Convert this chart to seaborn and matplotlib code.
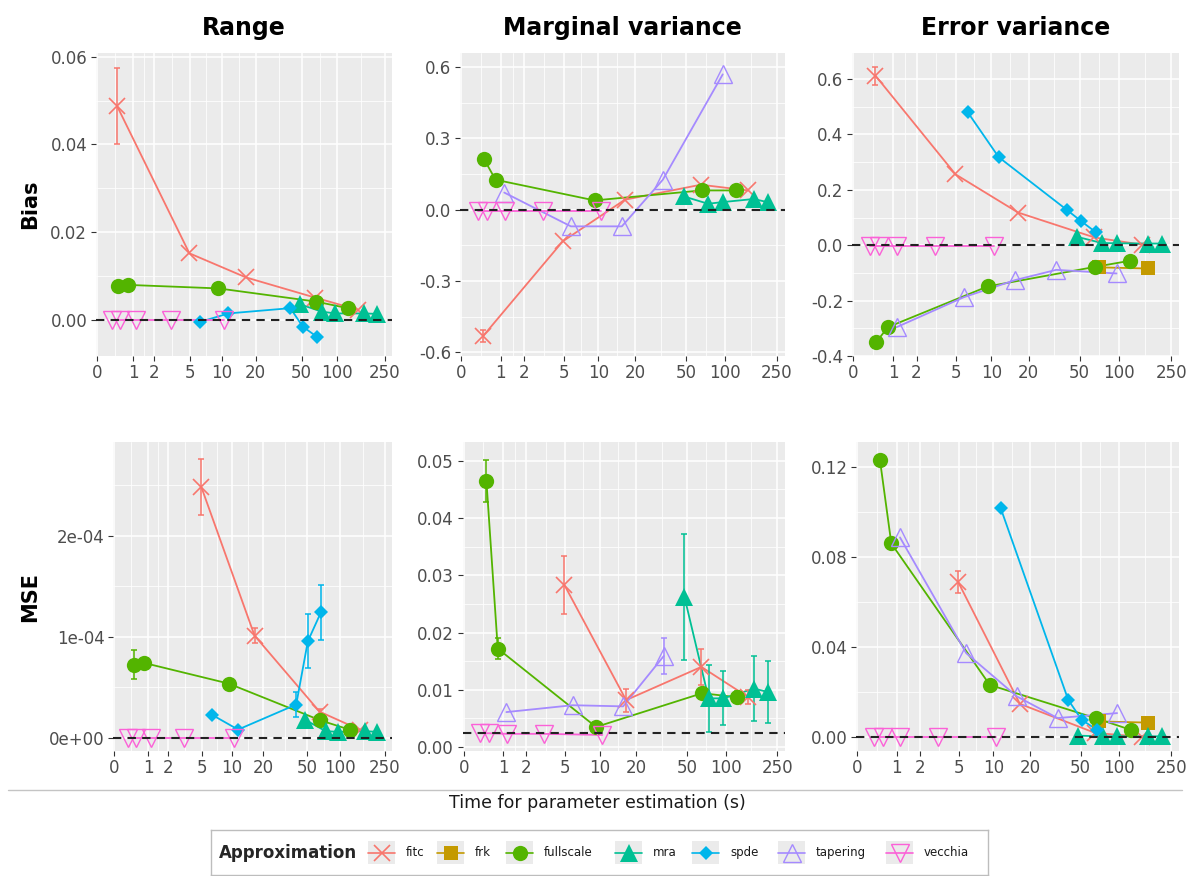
import numpy as np
import pandas as pd
import matplotlib
matplotlib.use("Agg")
import matplotlib.pyplot as plt
import seaborn as sns
from matplotlib.patches import Rectangle
from matplotlib.lines import Line2D

# ---------------- data ----------------
nan = np.nan
methods = ["fitc", "frk", "fullscale", "mra", "spde", "tapering", "vecchia"]
colors = ["#F8766D", "#C49A00", "#53B400", "#00C094", "#00B6EB", "#A58AFF", "#FB61D7"]

time_fitc = [0.47, 4.9, 16.5, 65, 150]
time_frk = [70, 165]
time_fullscale = [0.49, 0.82, 9.3, 66, 122]
time_mra = [48, 74, 96, 166, 214]
time_spde = [6.3, 11.5, 40, 51, 67]
time_tapering = [1.12, 5.8, 15.6, 33, 96]
time_vecchia = [0.33, 0.56, 1.13, 3.14, 10.5]

# Bias - Range
bias_range_fitc = [0.0488, 0.0152, 0.0097, 0.0051, 0.0023]
bias_range_fullscale = [0.0077, 0.0080, 0.0072, 0.0042, 0.0027]
bias_range_mra = [0.0036, 0.0019, 0.0015, 0.0015, 0.0014]
bias_range_spde = [-0.0004, 0.0015, 0.0027, -0.0015, -0.0038]
bias_range_vecchia = [-0.0001, -0.0001, -0.0001, -0.0001, -0.0001]
# Bias - Marginal variance
bias_mv_fitc = [-0.530, -0.133, 0.042, 0.105, 0.081]
bias_mv_fullscale = [0.212, 0.126, 0.039, 0.081, 0.081]
bias_mv_mra = [0.056, 0.025, 0.032, 0.045, 0.031]
bias_mv_tapering = [0.072, -0.070, -0.070, 0.126, 0.569]
bias_mv_vecchia = [-0.004, -0.004, -0.004, -0.004, -0.004]
# Bias - Error variance
bias_ev_fitc = [0.612, 0.256, 0.118, 0.028, 0.002]
bias_ev_frk = [-0.080, -0.084]
bias_ev_fullscale = [-0.350, -0.296, -0.149, -0.078, -0.056]
bias_ev_mra = [0.030, 0.008, 0.007, 0.006, 0.006]
bias_ev_spde = [0.480, 0.318, 0.127, 0.088, 0.046]
bias_ev_tapering = [-0.296, -0.188, -0.126, -0.089, -0.102]
bias_ev_vecchia = [-0.002, -0.002, -0.002, -0.002, -0.002]
# MSE - Range
mse_range_fitc = [nan, 2.485e-4, 1.013e-4, 0.26e-4, 0.08e-4]
mse_range_fullscale = [0.726e-4, 0.743e-4, 0.538e-4, 0.174e-4, 0.08e-4]
mse_range_mra = [0.18e-4, 0.066e-4, 0.06e-4, 0.066e-4, 0.06e-4]
mse_range_spde = [0.23e-4, 0.082e-4, 0.33e-4, 0.957e-4, 1.244e-4]
mse_range_vecchia = [1e-7, 1e-7, 1e-7, 1e-7, 1e-7]
# MSE - Marginal variance
mse_mv_fitc = [nan, 0.0283, 0.0082, 0.0140, 0.0087]
mse_mv_fullscale = [0.0465, 0.0172, 0.0035, 0.0094, 0.0087]
mse_mv_mra = [0.0262, 0.0085, 0.0085, 0.0102, 0.0096]
mse_mv_tapering = [0.0061, 0.0073, 0.0071, 0.0159, nan]
mse_mv_vecchia = [0.0024, 0.0024, 0.0023, 0.0023, 0.0021]
# MSE - Error variance
mse_ev_fitc = [nan, 0.069, 0.0149, 0.0020, 0.0003]
mse_ev_frk = [0.0071, 0.0066]
mse_ev_fullscale = [0.123, 0.086, 0.0233, 0.0085, 0.0034]
mse_ev_mra = [0.0008, 0.0005, 0.0005, 0.0005, 0.0005]
mse_ev_spde = [nan, 0.1016, 0.0167, 0.0078, 0.0034]
mse_ev_tapering = [0.0887, 0.0374, 0.0182, 0.0086, 0.0108]
mse_ev_vecchia = [0.0002, 0.0002, 0.0002, 0.0002, 0.0002]

# error-bar half widths (only visible ones)
err_bias_range = {"fitc": [0.0087, 0, 0, 0, 0]}
err_bias_mv = {"fitc": [0.025, 0, 0, 0, 0]}
err_bias_ev = {"fitc": [0.033, 0, 0, 0, 0]}
err_mse_range = {"fitc": [nan, 0.28e-4, 0.077e-4, 0.03e-4, 0],
                 "fullscale": [0.14e-4, 0.03e-4, 0, 0, 0],
                 "spde": [0, 0, 0.12e-4, 0.27e-4, 0.27e-4]}
err_mse_mv = {"fitc": [nan, 0.005, 0.002, 0.0032, 0.0012],
              "fullscale": [0.0037, 0.0019, 0, 0, 0.001],
              "mra": [0.011, 0.0058, 0.0047, 0.0057, 0.0054],
              "tapering": [0, 0, 0, 0.0032, nan]}
err_mse_ev = {"fitc": [nan, 0.005, 0, 0, 0]}

col_titles = ["Range", "Marginal variance", "Error variance"]
row_titles = ["Bias", "MSE"]
x_ticks = [0, 1, 2, 5, 10, 20, 50, 100, 250]
x_label = "Time for parameter estimation (s)"
legend_title = "Approximation"

times = dict(zip(methods, [time_fitc, time_frk, time_fullscale, time_mra,
                           time_spde, time_tapering, time_vecchia]))
color_of = dict(zip(methods, colors))

panel_values = [
    {"fitc": bias_range_fitc, "fullscale": bias_range_fullscale, "mra": bias_range_mra,
     "spde": bias_range_spde, "vecchia": bias_range_vecchia},
    {"fitc": bias_mv_fitc, "fullscale": bias_mv_fullscale, "mra": bias_mv_mra,
     "tapering": bias_mv_tapering, "vecchia": bias_mv_vecchia},
    {"fitc": bias_ev_fitc, "frk": bias_ev_frk, "fullscale": bias_ev_fullscale, "mra": bias_ev_mra,
     "spde": bias_ev_spde, "tapering": bias_ev_tapering, "vecchia": bias_ev_vecchia},
    {"fitc": mse_range_fitc, "fullscale": mse_range_fullscale, "mra": mse_range_mra,
     "spde": mse_range_spde, "vecchia": mse_range_vecchia},
    {"fitc": mse_mv_fitc, "fullscale": mse_mv_fullscale, "mra": mse_mv_mra,
     "tapering": mse_mv_tapering, "vecchia": mse_mv_vecchia},
    {"fitc": mse_ev_fitc, "frk": mse_ev_frk, "fullscale": mse_ev_fullscale, "mra": mse_ev_mra,
     "spde": mse_ev_spde, "tapering": mse_ev_tapering, "vecchia": mse_ev_vecchia},
]
panel_errs = [err_bias_range, err_bias_mv, err_bias_ev, err_mse_range, err_mse_mv, err_mse_ev]
panel_hline = [0, 0, 0, 0, 0.0024, 0]
panel_yticks = [
    [0, 0.02, 0.04, 0.06],
    [-0.6, -0.3, 0.0, 0.3, 0.6],
    [-0.4, -0.2, 0.0, 0.2, 0.4, 0.6],
    [0, 1e-4, 2e-4],
    [0, 0.01, 0.02, 0.03, 0.04, 0.05],
    [0, 0.04, 0.08, 0.12],
]
panel_yticklabels = [
    ["0.00", "0.02", "0.04", "0.06"],
    ["-0.6", "-0.3", "0.0", "0.3", "0.6"],
    ["-0.4", "-0.2", "0.0", "0.2", "0.4", "0.6"],
    ["0e+00", "1e-04", "2e-04"],
    ["0.00", "0.01", "0.02", "0.03", "0.04", "0.05"],
    ["0.00", "0.04", "0.08", "0.12"],
]
panel_ylim = [(-0.0082, 0.0609), (-0.615, 0.66), (-0.40, 0.695),
              (-1.3e-5, 2.93e-4), (-0.0007, 0.0533), (-0.006, 0.131)]

# ---------------- styles / layout ----------------
W, H = 1190, 876
panel_px = [(95.7, 52.7, 392, 356), (460, 52.7, 785, 356), (852, 52.7, 1179.3, 356),
            (113.3, 442, 391.7, 751), (462.5, 442, 785, 751), (856, 442, 1179, 751)]
marker_style = {
    "fitc": dict(marker="x", ms=11.5, mew=1.2, mfc="none"),
    "frk": dict(marker="s", ms=10, mew=0, mfc=None),
    "fullscale": dict(marker="o", ms=11, mew=0, mfc=None),
    "mra": dict(marker="^", ms=12.5, mew=0, mfc=None),
    "spde": dict(marker="D", ms=7.3, mew=0, mfc=None),
    "tapering": dict(marker="^", ms=12.5, mew=1.0, mfc="none"),
    "vecchia": dict(marker="v", ms=12.5, mew=1.0, mfc="none"),
}


def fwd(x):
    x = np.asarray(x, dtype=float)
    return np.log10(np.clip(x + 1, 1e-9, None))


def inv(y):
    return 10 ** np.asarray(y, dtype=float) - 1


def px_box(b):
    x0, y0, x1, y1 = b
    return [x0 / W, 1 - y1 / H, (x1 - x0) / W, (y1 - y0) / H]


sns.set_theme(style="darkgrid")
plt.rcParams["font.family"] = ["DejaVu Sans"]

fig = plt.figure(figsize=(W / 100, H / 100), dpi=100)
fig.patch.set_facecolor("white")

x_minor = [float(inv((fwd(a) + fwd(b)) / 2)) for a, b in zip(x_ticks[:-1], x_ticks[1:])]

axes = []
for i in range(6):
    ax = fig.add_axes(px_box(panel_px[i]))
    axes.append(ax)
    vals = panel_values[i]
    errs = panel_errs[i]
    present = [m for m in methods if m in vals]
    frames = {}
    for m in present:
        df = pd.DataFrame({"time": times[m], "value": vals[m]})
        if m in errs:
            df["err"] = errs[m]
        else:
            df["err"] = 0.0
        frames[m] = df.dropna(subset=["value"])
    # lines
    for m in present:
        sns.lineplot(data=frames[m], x="time", y="value", color=color_of[m], lw=1.3,
                     estimator=None, sort=True, ax=ax, legend=False, zorder=2)
    # error bars
    for m in present:
        df = frames[m]
        d = df[df["err"] > 0]
        if len(d):
            ax.errorbar(d["time"], d["value"], yerr=d["err"], fmt="none", ecolor=color_of[m],
                        elinewidth=1.1, capsize=2.3, capthick=1.1, zorder=2.5)
    # points
    for m in present:
        st = marker_style[m]
        c = color_of[m]
        mfc = c if st["mfc"] is None else st["mfc"]
        sns.lineplot(data=frames[m], x="time", y="value", color=c, linestyle="none",
                     marker=st["marker"], markersize=st["ms"], markerfacecolor=mfc,
                     markeredgecolor=c, markeredgewidth=st["mew"],
                     estimator=None, sort=True, ax=ax, legend=False, zorder=3)
    ax.axhline(panel_hline[i], color="#222222", lw=1.5, ls=(0, (4, 3)), zorder=5)

    ax.set_xscale("function", functions=(fwd, inv))
    ax.set_xlim(float(inv(-0.01)), float(inv(2.46)))
    ax.set_xticks(x_ticks)
    ax.set_xticklabels([str(t) for t in x_ticks])
    ax.set_xticks(x_minor, minor=True)

    yt = panel_yticks[i]
    ax.set_ylim(*panel_ylim[i])
    ax.set_yticks(yt)
    ax.set_yticklabels(panel_yticklabels[i])
    step = yt[1] - yt[0]
    ymin = [yt[0] - step / 2] + [(a + b) / 2 for a, b in zip(yt[:-1], yt[1:])] + [yt[-1] + step / 2]
    ymin = [v for v in ymin if panel_ylim[i][0] <= v <= panel_ylim[i][1]]
    ax.set_yticks(ymin, minor=True)

    ax.set_facecolor("#EBEBEB")
    for s in ax.spines.values():
        s.set_visible(False)
    ax.set_axisbelow(True)
    ax.grid(which="major", color="white", lw=1.1)
    ax.grid(which="minor", color="white", lw=0.55)
    ax.tick_params(which="major", length=3.6, width=0.8, color="#333333",
                   labelcolor="#4D4D4D", labelsize=12, pad=2.5, bottom=True, left=True)
    ax.tick_params(which="minor", length=0)
    ax.set_xlabel("")
    ax.set_ylabel("")

# column titles and row labels
for j, t in enumerate(col_titles):
    b = panel_px[j]
    fig.text(((b[0] + b[2]) / 2) / W, 1 - 28 / H, t, ha="center", va="center",
             fontsize=17, fontweight="bold", color="black")
for r, t in enumerate(row_titles):
    b = panel_px[3 * r]
    fig.text(30 / W, 1 - ((b[1] + b[3]) / 2) / H, t, ha="center", va="center",
             rotation=90, fontsize=15, fontweight="bold", color="black")

# separator and x label
fig.add_artist(Line2D([8 / W, 1182 / W], [1 - 790 / H, 1 - 790 / H], color="#C4C4C4", lw=1.0))
fig.text(597 / W, 1 - 803 / H, x_label, ha="center", va="center", fontsize=12.5, color="#1a1a1a")

# legend (manual, ggplot style with title on the left)
lx0, ly0, lx1, ly1 = 211, 830, 988, 875
lax = fig.add_axes(px_box((lx0, ly0, lx1, ly1)))
lax.set_xlim(0, lx1 - lx0)
lax.set_ylim(0, ly1 - ly0)
lax.set_xticks([])
lax.set_yticks([])
lax.grid(False)
lax.set_facecolor("white")
for s in lax.spines.values():
    s.set_visible(True)
    s.set_color("#BDBDBD")
    s.set_linewidth(1.0)
cy = (ly1 - ly0) / 2
lax.text(8, cy, legend_title, ha="left", va="center", fontsize=12, fontweight="bold")
key_left = [157, 226, 295, 404, 481, 567, 675]
kw, kh = 27, 23
for m, kx in zip(methods, key_left):
    c = color_of[m]
    st = marker_style[m]
    lax.add_patch(Rectangle((kx, cy - kh / 2), kw, kh, facecolor="#EBEBEB", edgecolor="none"))
    lax.plot([kx, kx + kw], [cy, cy], color=c, lw=1.2)
    mfc = c if st["mfc"] is None else st["mfc"]
    lax.plot([kx + kw / 2], [cy], linestyle="none", marker=st["marker"], ms=st["ms"],
             mfc=mfc, mec=c, mew=st["mew"])
    lax.text(kx + kw + 11, cy, m, ha="left", va="center", fontsize=8.5, color="#1a1a1a")

fig.savefig("out.png", dpi=100, facecolor="white")
